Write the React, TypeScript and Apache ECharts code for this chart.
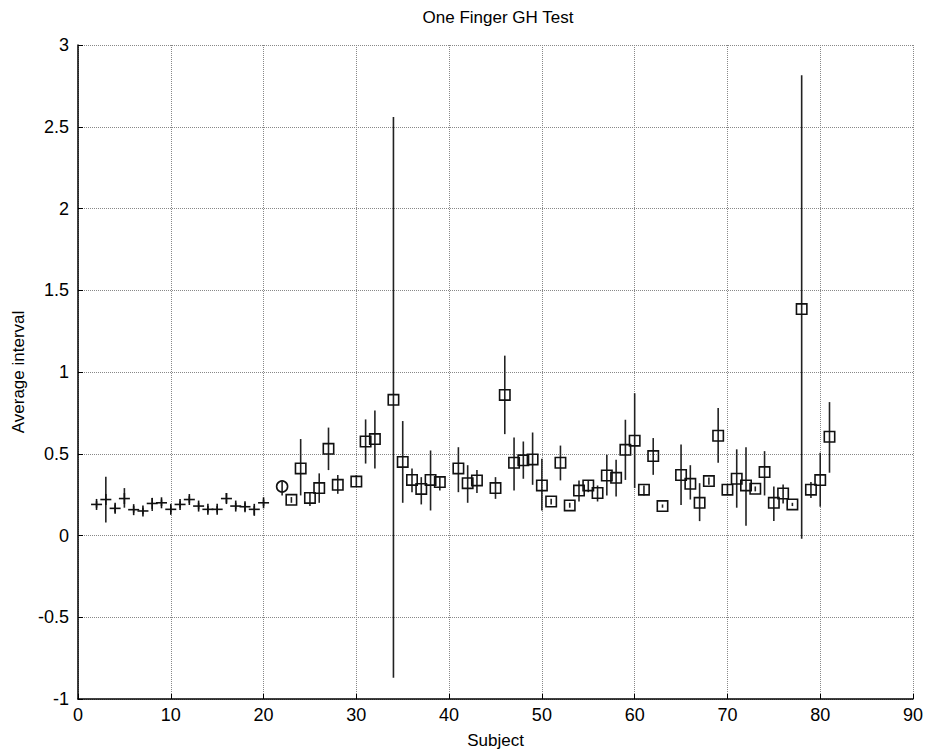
import React, { useEffect, useRef } from "react";
import * as echarts from "echarts";

// Group 1: "+" markers
const plusSubjects = [2, 3, 4, 5, 6, 7, 8, 9, 10, 11, 12, 13, 14, 15, 16, 17, 18, 19, 20];
const plusMeans = [0.19, 0.22, 0.166, 0.226, 0.158, 0.15, 0.196, 0.2, 0.16, 0.19, 0.22, 0.18, 0.16, 0.16, 0.226, 0.18, 0.176, 0.16, 0.2];
const plusLows = [0.17, 0.08, 0.14, 0.17, 0.14, 0.13, 0.15, 0.18, 0.14, 0.17, 0.2, 0.16, 0.14, 0.14, 0.2, 0.16, 0.15, 0.12, 0.18];
const plusHighs = [0.21, 0.36, 0.19, 0.29, 0.18, 0.17, 0.23, 0.22, 0.18, 0.21, 0.24, 0.2, 0.18, 0.18, 0.26, 0.2, 0.2, 0.18, 0.22];

// Group 2: circle marker
const circleSubjects = [22];
const circleMeans = [0.3];
const circleLows = [0.245];
const circleHighs = [0.33];

// Group 3: square markers
const squareSubjects = [23, 24, 25, 26, 27, 28, 30, 31, 32, 34, 35, 36, 37, 38, 39, 41, 42, 43, 45, 46, 47, 48, 49, 50, 51, 52, 53, 54, 55, 56, 57, 58, 59, 60, 61, 62, 63, 65, 66, 67, 68, 69, 70, 71, 72, 73, 74, 75, 76, 77, 78, 79, 80, 81];
const squareMeans = [0.218, 0.41, 0.23, 0.29, 0.53, 0.31, 0.33, 0.575, 0.59, 0.83, 0.45, 0.34, 0.285, 0.34, 0.327, 0.41, 0.32, 0.337, 0.29, 0.86, 0.445, 0.46, 0.465, 0.306, 0.208, 0.445, 0.184, 0.275, 0.306, 0.26, 0.367, 0.353, 0.524, 0.58, 0.28, 0.486, 0.18, 0.37, 0.316, 0.2, 0.333, 0.61, 0.28, 0.347, 0.306, 0.286, 0.388, 0.2, 0.257, 0.19, 1.385, 0.28, 0.339, 0.604];
const squareLows = [0.2, 0.245, 0.18, 0.2, 0.4, 0.255, 0.3, 0.44, 0.41, -0.87, 0.2, 0.265, 0.19, 0.153, 0.275, 0.265, 0.2, 0.26, 0.224, 0.62, 0.275, 0.347, 0.31, 0.153, 0.19, 0.337, 0.17, 0.208, 0.265, 0.208, 0.245, 0.239, 0.34, 0.29, 0.245, 0.371, 0.17, 0.186, 0.22, 0.088, 0.31, 0.445, 0.25, 0.17, 0.06, 0.27, 0.245, 0.088, 0.196, 0.18, -0.02, 0.23, 0.176, 0.384];
const squareHighs = [0.235, 0.59, 0.265, 0.38, 0.66, 0.37, 0.37, 0.71, 0.765, 2.56, 0.7, 0.41, 0.357, 0.52, 0.357, 0.54, 0.43, 0.4, 0.357, 1.1, 0.6, 0.575, 0.63, 0.47, 0.225, 0.55, 0.2, 0.337, 0.337, 0.306, 0.494, 0.463, 0.708, 0.87, 0.306, 0.596, 0.19, 0.557, 0.43, 0.32, 0.355, 0.78, 0.31, 0.527, 0.54, 0.3, 0.516, 0.3, 0.312, 0.2, 2.815, 0.327, 0.506, 0.816];

const xTicks = { min: 0, max: 90, interval: 10 };
const yTicks = { min: -1, max: 3, interval: 0.5 };

const FONT = "'Liberation Sans', Arial, sans-serif";

function rows(xs: number[], m: number[], lo: number[], hi: number[]) {
  return xs.map((x, i) => [x, m[i], lo[i], hi[i]]);
}

function makeRender(kind: "plus" | "circle" | "square") {
  return (params: any, api: any) => {
    const x = api.value(0);
    const m = api.value(1);
    const lo = api.value(2);
    const hi = api.value(3);
    const pm = api.coord([x, m]);
    const pl = api.coord([x, lo]);
    const ph = api.coord([x, hi]);
    const stroke = { stroke: "#111", lineWidth: 1.6, fill: "none" };
    const children: any[] = [
      { type: "line", shape: { x1: pm[0], y1: pl[1], x2: pm[0], y2: ph[1] }, style: { stroke: "#222", lineWidth: 1.6 } },
    ];
    const s = 5.5;
    if (kind === "plus") {
      children.push({ type: "line", shape: { x1: pm[0] - s, y1: pm[1], x2: pm[0] + s, y2: pm[1] }, style: stroke });
      children.push({ type: "line", shape: { x1: pm[0], y1: pm[1] - s, x2: pm[0], y2: pm[1] + s }, style: stroke });
    } else if (kind === "circle") {
      children.push({ type: "circle", shape: { cx: pm[0], cy: pm[1], r: s }, style: stroke });
    } else {
      children.push({ type: "rect", shape: { x: pm[0] - 5.2, y: pm[1] - 5.2, width: 10.4, height: 10.4 }, style: stroke });
    }
    return { type: "group", children };
  };
}

export default function App() {
  const ref = useRef<HTMLDivElement>(null);
  useEffect(() => {
    document.body.style.margin = "0";
    const chart = echarts.init(ref.current!, null, { renderer: "svg" });
    const axisCommon = {
      axisLine: { show: true, onZero: false, lineStyle: { color: "#000", width: 1.5 } },
      axisTick: { show: true, inside: true, length: 5, lineStyle: { color: "#000", width: 1 } },
      axisLabel: { color: "#000", fontSize: 18, fontFamily: FONT },
      splitLine: { show: true, lineStyle: { color: "#888", type: "dotted", width: 1 } },
      nameTextStyle: { color: "#000", fontSize: 17, fontFamily: FONT },
    };
    chart.setOption({
      animation: false,
      backgroundColor: "#fff",
      grid: { left: 78, right: 16, top: 45, bottom: 48, containLabel: false },
      graphic: [
        {
          type: "text",
          x: 498,
          y: 9,
          style: { text: "One Finger GH Test", textAlign: "center", fontSize: 17, fontFamily: FONT, fill: "#000" },
        },
      ],
      xAxis: {
        type: "value",
        ...xTicks,
        ...axisCommon,
        axisLabel: { ...axisCommon.axisLabel, margin: 7 },
        name: "Subject",
        nameLocation: "middle",
        nameGap: 33,
      },
      yAxis: {
        type: "value",
        ...yTicks,
        ...axisCommon,
        axisLabel: { ...axisCommon.axisLabel, margin: 9 },
        name: "Average interval",
        nameLocation: "middle",
        nameGap: 41,
      },
      series: [
        { type: "custom", renderItem: makeRender("plus"), data: rows(plusSubjects, plusMeans, plusLows, plusHighs), encode: { x: 0, y: 1 } },
        { type: "custom", renderItem: makeRender("circle"), data: rows(circleSubjects, circleMeans, circleLows, circleHighs), encode: { x: 0, y: 1 } },
        { type: "custom", renderItem: makeRender("square"), data: rows(squareSubjects, squareMeans, squareLows, squareHighs), encode: { x: 0, y: 1 } },
      ],
    });
    return () => chart.dispose();
  }, []);
  return <div ref={ref} style={{ width: 929, height: 754 }} />;
}
